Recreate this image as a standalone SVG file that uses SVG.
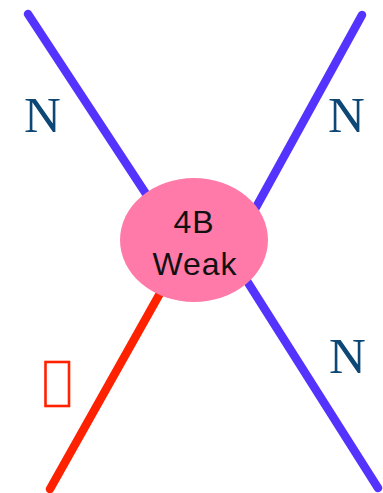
<svg xmlns="http://www.w3.org/2000/svg" width="383" height="493" viewBox="0 0 383 493">
<style>
.blue{stroke:#5533ff;stroke-width:8.5;stroke-linecap:round;fill:none}
.red{stroke:#ff2200;stroke-width:8.5;stroke-linecap:round;fill:none}
.lbl{font-family:"Liberation Serif",serif;font-size:51px;fill:#0d4775}
.vtx{font-family:"Liberation Sans",Arial,sans-serif;font-size:32px;fill:#111;text-anchor:middle}
</style>
<g id="connectors">
<line class="blue" x1="28" y1="14" x2="175" y2="238"/>
<line class="blue" x1="362" y1="15" x2="238" y2="240"/>
<line class="blue" x1="221" y1="240" x2="378" y2="488"/>
<line class="red" x1="190" y1="240" x2="50" y2="489"/>
</g>
<g id="vertex">
<ellipse cx="194" cy="240" rx="74" ry="62" fill="#ff7aa8"/>
<text class="vtx" x="194" y="233" letter-spacing="1">4B</text>
<text class="vtx" x="195" y="275" letter-spacing="1">Weak</text>
</g>
<g id="labels">
<text class="lbl" x="24" y="132">N</text>
<text class="lbl" x="328" y="132">N</text>
<text class="lbl" x="329" y="373">N</text>
<rect x="45.5" y="362" width="23.5" height="44" fill="none" stroke="#ff2200" stroke-width="2.6"/>
</g>
</svg>
